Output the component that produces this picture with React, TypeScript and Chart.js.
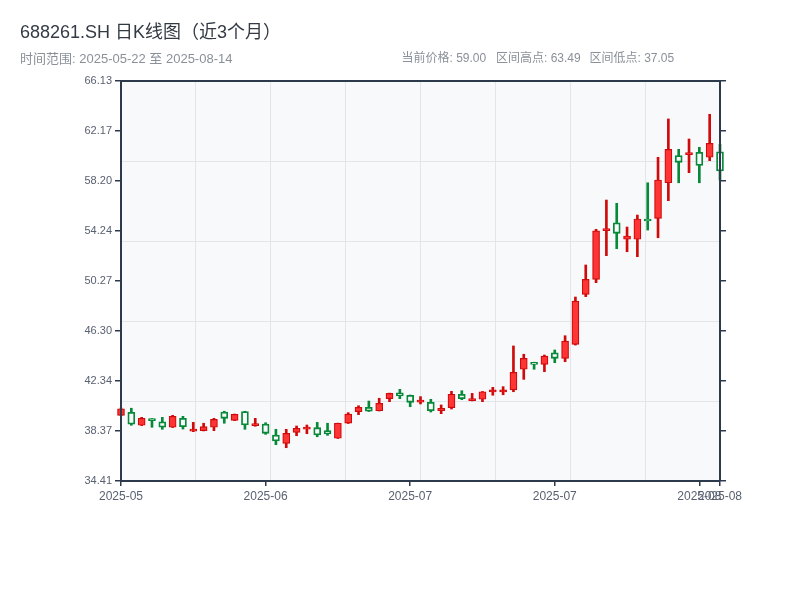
import React, { useEffect, useRef } from 'react';
import { Chart, registerables } from 'chart.js';

Chart.register(...registerables);

// trading days shown on the chart
const dates = [
  '2025-05-22', '2025-05-23', '2025-05-26', '2025-05-27', '2025-05-28', '2025-05-29', '2025-05-30',
  '2025-06-03', '2025-06-04', '2025-06-05', '2025-06-06', '2025-06-09', '2025-06-10', '2025-06-11',
  '2025-06-12', '2025-06-13', '2025-06-16', '2025-06-17', '2025-06-18', '2025-06-19', '2025-06-20',
  '2025-06-23', '2025-06-24', '2025-06-25', '2025-06-26', '2025-06-27', '2025-06-30', '2025-07-01',
  '2025-07-02', '2025-07-03', '2025-07-04', '2025-07-07', '2025-07-08', '2025-07-09', '2025-07-10',
  '2025-07-11', '2025-07-14', '2025-07-15', '2025-07-16', '2025-07-17', '2025-07-18', '2025-07-21',
  '2025-07-22', '2025-07-23', '2025-07-24', '2025-07-25', '2025-07-28', '2025-07-29', '2025-07-30',
  '2025-08-01', '2025-08-04', '2025-08-05', '2025-08-06', '2025-08-07', '2025-08-08', '2025-08-11',
  '2025-08-12', '2025-08-13', '2025-08-14'
];

const openPrices = [
  39.62, 39.86, 38.83, 39.35, 39.11, 38.67, 39.38, 38.37, 38.40, 38.67,
  39.88, 39.22, 39.91, 38.80, 38.93, 38.06, 37.40, 38.27, 38.53, 38.64,
  38.40, 37.80, 38.99, 39.91, 40.25, 39.98, 40.94, 41.41, 41.21, 40.67,
  40.65, 39.98, 40.22, 41.29, 40.78, 40.89, 41.47, 41.47, 41.63, 43.27,
  43.82, 43.66, 44.58, 44.14, 45.25, 49.21, 50.40, 54.26, 54.89, 53.58,
  53.58, 55.19, 55.24, 58.06, 60.21, 60.29, 60.48, 60.08, 60.52
];
const highPrices = [
  40.20, 40.18, 39.46, 39.36, 39.46, 39.62, 39.54, 39.06, 38.99, 39.38,
  39.94, 39.72, 39.94, 39.38, 39.03, 38.51, 38.51, 38.77, 38.85, 39.06,
  38.99, 39.00, 39.83, 40.38, 40.75, 40.97, 41.38, 41.68, 41.23, 41.10,
  40.89, 40.44, 41.52, 41.57, 41.36, 41.51, 41.84, 41.89, 45.12, 44.46,
  43.83, 44.40, 44.80, 45.93, 49.00, 51.54, 54.37, 56.69, 56.43, 54.55,
  55.50, 58.06, 60.08, 63.12, 60.71, 61.53, 60.87, 63.49, 61.11
];
const lowPrices = [
  39.58, 38.83, 38.80, 38.67, 38.51, 38.65, 38.53, 38.32, 38.38, 38.40,
  38.99, 39.20, 38.51, 38.75, 38.11, 37.29, 37.05, 38.00, 38.16, 37.92,
  38.03, 37.78, 38.97, 39.67, 39.92, 39.96, 40.70, 40.94, 40.30, 40.52,
  39.88, 39.75, 40.12, 40.86, 40.76, 40.70, 41.21, 41.25, 41.49, 42.47,
  43.27, 43.08, 43.79, 43.87, 45.19, 49.03, 50.14, 52.28, 52.83, 52.59,
  52.20, 54.31, 53.70, 56.64, 58.06, 58.86, 58.06, 59.81, 58.28
];
const closePrices = [
  40.14, 38.91, 39.38, 39.19, 38.67, 39.54, 38.72, 38.51, 38.72, 39.30,
  39.38, 39.70, 38.85, 38.95, 38.19, 37.58, 38.19, 38.59, 38.67, 38.06,
  38.14, 38.99, 39.72, 40.25, 39.94, 40.57, 41.36, 41.15, 40.65, 40.83,
  39.98, 40.17, 41.29, 40.94, 40.89, 41.49, 41.63, 41.63, 43.03, 44.14,
  43.66, 44.32, 44.14, 45.51, 48.68, 50.40, 54.24, 54.39, 54.05, 53.84,
  55.19, 55.03, 58.28, 60.71, 59.68, 60.44, 59.44, 61.19, 59.00
];

const yTickValues = [34.41, 38.37, 42.34, 46.30, 50.27, 54.24, 58.20, 62.17, 66.13];
const xTickIndexes = [0, 14, 28, 42, 56, 58];

const titleText = '688261.SH 日K线图（近3个月）';
const rangeText = '时间范围: 2025-05-22 至 2025-08-14';
const statsTexts = ['当前价格: 59.00', '区间高点: 63.49', '区间低点: 37.05'];
const statsX = [401.5, 496, 589.5];

const FONT = '"Liberation Sans", Arial, "Noto Sans CJK SC", sans-serif';
const axisColor = '#2c3a4c';
const gridColor = '#e2e5ea';
const tickColor = '#596170';
const plotBg = '#f7f9fb';
const upFill = '#ff3535';
const upLine = '#cf0a0a';
const downLine = '#08893a';

const headerPlugin = {
  id: 'header',
  beforeDraw(chart: Chart) {
    const { ctx, chartArea } = chart;
    ctx.save();
    ctx.fillStyle = plotBg;
    ctx.fillRect(chartArea.left, chartArea.top, chartArea.right - chartArea.left, chartArea.bottom - chartArea.top);
    ctx.textBaseline = 'middle';
    ctx.textAlign = 'left';
    ctx.fillStyle = '#333a44';
    ctx.font = `18px ${FONT}`;
    ctx.fillText(titleText, 20, 33);
    ctx.fillStyle = '#8a9099';
    ctx.font = `13px ${FONT}`;
    ctx.fillText(rangeText, 20, 59);
    ctx.font = `12px ${FONT}`;
    statsTexts.forEach((t, i) => ctx.fillText(t, statsX[i], 59));
    ctx.restore();
  }
};

const App = () => {
  const canvasRef = useRef<HTMLCanvasElement | null>(null);
  const chartRef = useRef<Chart | null>(null);

  useEffect(() => {
    const ctx = canvasRef.current!.getContext('2d');
    if (!ctx) return;
    const up = closePrices.map((c, i) => c >= openPrices[i]);

    const yTicks = (s: any) => {
      s.ticks = yTickValues.map((v) => ({ value: v }));
    };
    const edgeGrid = { drawOnChartArea: false, color: axisColor, lineWidth: 1.5, tickLength: 6 };
    const edgeBorder = { color: axisColor, width: 2, z: 1 };

    chartRef.current = new Chart(ctx, {
      type: 'bar',
      data: {
        labels: dates,
        datasets: [
          {
            label: 'body',
            data: openPrices.map((o, i) => [o, closePrices[i]]),
            backgroundColor: up.map((u) => (u ? upFill : plotBg)),
            borderColor: up.map((u) => (u ? upLine : downLine)),
            borderWidth: up.map((u) => (u ? 1.2 : 1.8)),
            borderSkipped: false,
            barThickness: 7,
            minBarLength: 2,
            grouped: false,
            clip: false,
            order: 0
          } as any,
          {
            label: 'wick',
            data: lowPrices.map((l, i) => [l, highPrices[i]]),
            backgroundColor: up.map((u) => (u ? upLine : downLine)),
            borderWidth: 0,
            barThickness: 2,
            grouped: false,
            clip: false,
            order: 1
          } as any
        ]
      },
      options: {
        responsive: false,
        animation: false,
        events: [],
        layout: { padding: { left: 0, right: 0, top: 81, bottom: 79 } },
        plugins: {
          legend: { display: false },
          tooltip: { enabled: false }
        },
        scales: {
          x: {
            type: 'category',
            position: 'bottom',
            offset: false,
            grid: { ...edgeGrid, offset: false, tickLength: 5 },
            border: edgeBorder,
            ticks: {
              autoSkip: false,
              maxRotation: 0,
              padding: 3,
              color: tickColor,
              font: { size: 12, family: FONT },
              callback: (v: any) => dates[v].slice(0, 7)
            },
            afterBuildTicks: (s: any) => {
              s.ticks = xTickIndexes.map((v) => ({ value: v }));
            },
            afterFit: (s: any) => {
              s.height = 40;
            }
          },
          y: {
            type: 'linear',
            position: 'left',
            min: 34.41,
            max: 66.13,
            grid: edgeGrid,
            border: edgeBorder,
            ticks: {
              padding: 3,
              color: tickColor,
              font: { size: 11, family: FONT },
              callback: (v: any) => Number(v).toFixed(2)
            },
            afterBuildTicks: yTicks,
            afterFit: (s: any) => {
              s.width = 121;
            }
          },
          yRight: {
            axis: 'y',
            type: 'linear',
            position: 'right',
            min: 34.41,
            max: 66.13,
            grid: edgeGrid,
            border: edgeBorder,
            ticks: { display: false },
            afterBuildTicks: yTicks,
            afterFit: (s: any) => {
              s.width = 80;
            }
          },
          xGrid: {
            axis: 'x',
            type: 'linear',
            position: 'top',
            offset: false,
            min: 0,
            max: 8,
            ticks: { display: false, stepSize: 1 },
            grid: { color: gridColor, lineWidth: 1, drawTicks: false, offset: false },
            border: edgeBorder,
            afterFit: (s: any) => {
              s.height = 0;
            }
          },
          yGrid: {
            axis: 'y',
            type: 'linear',
            position: 'left',
            min: 0,
            max: 5,
            ticks: { display: false, stepSize: 1 },
            grid: { color: gridColor, lineWidth: 1, drawTicks: false },
            border: { display: false },
            afterFit: (s: any) => {
              s.width = 0;
            }
          }
        } as any
      },
      plugins: [headerPlugin]
    });

    return () => {
      if (chartRef.current) chartRef.current.destroy();
    };
  }, []);

  return (
    <div style={{ position: 'absolute', left: 0, top: 0, width: '800px', height: '600px' }}>
      <canvas ref={canvasRef} width='800' height='600' style={{ display: 'block' }}></canvas>
    </div>
  );
};

export default App;
